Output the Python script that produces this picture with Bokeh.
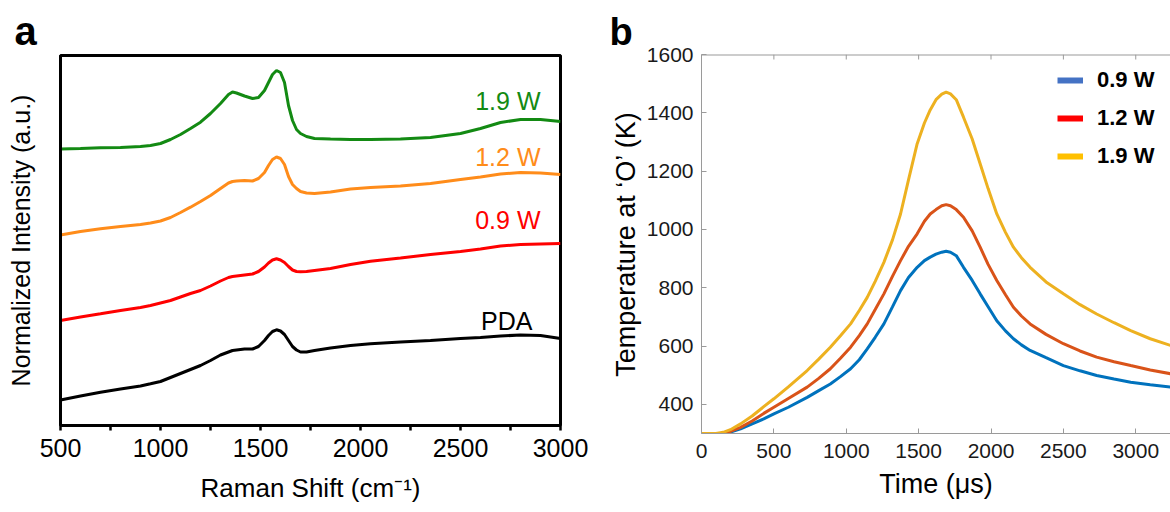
from bokeh.plotting import figure
from bokeh.layouts import row
from bokeh.models import Range1d, FixedTicker, Label, Legend, LegendItem, Span
from bokeh.embed import file_html
from bokeh.resources import INLINE

# ---------------- Panel a: Raman spectra (offset, arbitrary units) ----------------
raman_shift = [500, 600, 700, 800, 900, 950, 1000, 1050, 1100, 1150, 1200, 1250, 1300,
               1340, 1360, 1380, 1420, 1460, 1490, 1520, 1540, 1560, 1580, 1600, 1620,
               1640, 1660, 1680, 1700, 1730, 1770, 1850, 1950, 2050, 2200, 2350, 2500,
               2600, 2700, 2800, 2900, 3000]
int_19w = [276.5, 277, 277.7, 278, 279, 280, 282, 286, 291, 297, 303.3, 312, 322,
           331, 333.5, 332.5, 329.5, 327, 328, 335, 343, 351, 355, 353, 343,
           320, 305, 296, 292, 289, 287, 286.5, 286, 286, 286.5, 288, 292,
           297, 303, 306, 306, 304]
int_12w = [190.5, 194, 196.7, 199, 201, 202.5, 204.5, 208, 213, 218.3, 224, 230, 237,
           242.5, 244, 244.5, 245, 244.5, 247, 253, 260, 266, 268.5, 267, 261,
           249, 241, 237, 234, 232.5, 232, 233.5, 236.5, 238, 239.5, 242, 246,
           248.5, 251.5, 253, 252.5, 251]
int_09w = [105, 108.5, 111.7, 115, 118, 120, 122.5, 125, 128.5, 132, 135, 139.5, 144.5,
           148, 149, 149.5, 150.5, 151.5, 154, 158.5, 162.5, 165.5, 166.7, 165.5, 163,
           159, 155.5, 154, 153.7, 154, 155, 157, 161, 164.3, 167.5, 171, 174,
           176.5, 179.5, 181, 181.5, 182]
int_pda = [25.5, 29.5, 33.3, 36.5, 39.5, 41.7, 44, 48, 52, 56, 60, 65, 70.5,
           73.5, 75, 75.5, 76.5, 76.5, 79, 85, 90, 94, 95.7, 94.5, 91,
           85, 79, 75.5, 73.5, 73.5, 75, 77.5, 80, 81.7, 83.5, 85, 87,
           88, 89.5, 90.5, 90, 87]
spec_names = ["1.9 W", "1.2 W", "0.9 W", "PDA"]
spec_colors = ["#138a13", "#ff8c1a", "#ff0000", "#000000"]
raman_ticks = [500, 1000, 1500, 2000, 2500, 3000]
raman_minor = [750, 1250, 1750, 2250, 2750]

# ---------------- Panel b: temperature at 'O' ----------------
time_us = [0, 100, 150, 200, 270, 350, 430, 500, 600, 730, 810, 890, 960, 1030, 1090,
           1145, 1200, 1260, 1320, 1375, 1430, 1490, 1540, 1580, 1620, 1660, 1690,
           1720, 1760, 1810, 1870, 1925, 1980, 2040, 2100, 2155, 2210, 2270, 2380,
           2500, 2615, 2730, 2850, 2965, 3100, 3240]
temp_19w = [300, 300, 304, 313, 333, 360, 392, 419, 460, 516, 555, 596, 635, 676, 722,
            767, 822, 887, 965, 1053, 1170, 1294, 1365, 1410, 1445, 1464, 1471,
            1465, 1445, 1385, 1310, 1225, 1140, 1053, 990, 939, 903, 870, 820,
            779, 742, 710, 680, 653, 625, 602]
temp_12w = [300, 300, 301, 307, 321, 343, 369, 390, 420, 459, 489, 522, 558, 596, 636,
            676, 725, 779, 840, 893, 942, 985, 1028, 1053, 1068, 1081, 1085,
            1081, 1068, 1042, 995, 939, 880, 825, 776, 733, 703, 676, 640,
            608, 583, 562, 546, 533, 518, 505]
temp_09w = [300, 300, 300, 305, 316, 333, 350, 367, 390, 424, 447, 470, 495, 522, 553,
            590, 630, 676, 735, 790, 835, 870, 893, 905, 915, 922, 925,
            922, 910, 870, 825, 779, 735, 687, 652, 625, 604, 585, 560,
            533, 515, 499, 487, 476, 467, 459]
temp_names = ["0.9 W", "1.2 W", "1.9 W"]
line_colors = ["#0072BD", "#D95319", "#EDB120"]
legend_colors = ["#4472C4", "#FF0000", "#FFC000"]
time_ticks = [0, 500, 1000, 1500, 2000, 2500, 3000]
temp_ticks = [400, 600, 800, 1000, 1200, 1400, 1600]

FONT = "Liberation Sans"

# ================= Panel a =================
pa = figure(width=600, height=512, x_range=Range1d(500, 3000), y_range=Range1d(0, 370),
            output_backend="svg", toolbar_location=None,
            min_border_left=60, min_border_right=40, min_border_top=55, min_border_bottom=87)
pa.frame_align = False
pa.grid.visible = False
pa.outline_line_color = "black"
pa.outline_line_width = 3
pa.background_fill_color = "white"
pa.border_fill_color = "white"

pa.title.text = "a"
pa.title.text_font = FONT
pa.title.text_font_size = "40px"
pa.title.text_font_style = "bold"
pa.title.text_color = "black"
pa.title.align = "left"
pa.title.offset = -46
pa.title.standoff = 5

for ys, c in zip([int_19w, int_12w, int_09w, int_pda], spec_colors):
    pa.line(raman_shift, ys, line_color=c, line_width=3)

xa = pa.xaxis[0]
xa.ticker = FixedTicker(ticks=raman_ticks, minor_ticks=raman_minor)
xa.axis_line_width = 3
xa.major_tick_in = 0
xa.major_tick_out = 5
xa.minor_tick_in = 0
xa.minor_tick_out = 5
xa.major_tick_line_width = 2.5
xa.minor_tick_line_width = 2.5
xa.major_label_text_font = FONT
xa.major_label_text_font_size = "25px"
xa.major_label_text_color = "black"
xa.major_label_standoff = 8
xa.axis_label = "Raman Shift (cm\u207b\u00b9)"
xa.axis_label_text_font = FONT
xa.axis_label_text_font_size = "26px"
xa.axis_label_text_font_style = "normal"
xa.axis_label_text_color = "black"
xa.axis_label_standoff = 13

ya = pa.yaxis[0]
ya.ticker = FixedTicker(ticks=[])
ya.axis_line_width = 3
ya.major_tick_out = 0
ya.major_tick_in = 0
ya.minor_tick_out = 0
ya.minor_tick_in = 0
ya.axis_label = "Normalized Intensity (a.u.)"
ya.axis_label_text_font = FONT
ya.axis_label_text_font_size = "25px"
ya.axis_label_text_font_style = "normal"
ya.axis_label_text_color = "black"
ya.axis_label_standoff = 26

label_pos_a = [(2900, 325), (2900, 269), (2900, 206), (2860, 105)]
for name, c, (lx, ly) in zip(spec_names, spec_colors, label_pos_a):
    pa.add_layout(Label(x=lx, y=ly, text=name, text_color=c, text_font=FONT,
                        text_font_size="25px", text_align="right", text_baseline="middle"))

# ================= Panel b =================
AX = "#9a9a9a"
pb = figure(width=570, height=512, x_range=Range1d(0, 3240), y_range=Range1d(300, 1600),
            output_backend="svg", toolbar_location=None,
            min_border_left=101, min_border_right=0, min_border_top=54, min_border_bottom=79)
pb.frame_align = False
pb.grid.visible = False
pb.outline_line_color = None
pb.background_fill_color = "white"
pb.border_fill_color = "white"

pb.title.text = "b"
pb.title.text_font = FONT
pb.title.text_font_size = "38px"
pb.title.text_font_style = "bold"
pb.title.text_color = "black"
pb.title.align = "left"
pb.title.vertical_align = "top"
pb.title.offset = -92
pb.title.standoff = 0

for ys, c in zip([temp_09w, temp_12w, temp_19w], line_colors):
    pb.line(time_us, ys, line_color=c, line_width=3)

# top box edge with inward ticks (MATLAB-style box)
pb.add_layout(Span(location=1600, dimension="width", line_color=AX, line_width=2))
tick_len = 5 * (1600 - 300) / 379.0
pb.segment(x0=time_ticks, x1=time_ticks, y0=[1600] * len(time_ticks),
           y1=[1600 - tick_len] * len(time_ticks), line_color=AX, line_width=1)

bx = pb.xaxis[0]
bx.ticker = FixedTicker(ticks=time_ticks, minor_ticks=[])
bx.axis_line_color = AX
bx.major_tick_line_color = AX
bx.major_tick_in = 5
bx.major_tick_out = 0
bx.minor_tick_in = 0
bx.minor_tick_out = 0
bx.major_label_text_font = FONT
bx.major_label_text_font_size = "21px"
bx.major_label_text_color = "#1a1a1a"
bx.major_label_standoff = 10
bx.axis_label = "Time (\u03bcs)"
bx.axis_label_text_font = FONT
bx.axis_label_text_font_size = "27px"
bx.axis_label_text_font_style = "normal"
bx.axis_label_text_color = "black"
bx.axis_label_standoff = 8

by = pb.yaxis[0]
by.ticker = FixedTicker(ticks=temp_ticks, minor_ticks=[])
by.axis_line_color = AX
by.major_tick_line_color = AX
by.major_tick_in = 5
by.major_tick_out = 0
by.minor_tick_in = 0
by.minor_tick_out = 0
by.major_label_text_font = FONT
by.major_label_text_font_size = "21px"
by.major_label_text_color = "#1a1a1a"
by.major_label_standoff = 8
by.axis_label = "Temperature at \u2018O\u2019 (K)"
by.axis_label_text_font = FONT
by.axis_label_text_font_size = "27px"
by.axis_label_text_font_style = "normal"
by.axis_label_text_color = "black"
by.axis_label_standoff = 3

nan = float("nan")
proxies = [pb.line([nan], [nan], line_color=c, line_width=6) for c in legend_colors]
legend = Legend(items=[LegendItem(label=n, renderers=[r]) for n, r in zip(temp_names, proxies)],
                location=(356, 258), label_text_font=FONT, label_text_font_size="22px",
                label_text_font_style="bold", label_text_color="black",
                glyph_width=26, glyph_height=38, label_height=38, label_standoff=14,
                spacing=0, padding=0, margin=0, border_line_color=None,
                background_fill_alpha=0)
pb.add_layout(legend)

layout = row(pa, pb)
open("out.html", "w").write(file_html(layout, INLINE))
